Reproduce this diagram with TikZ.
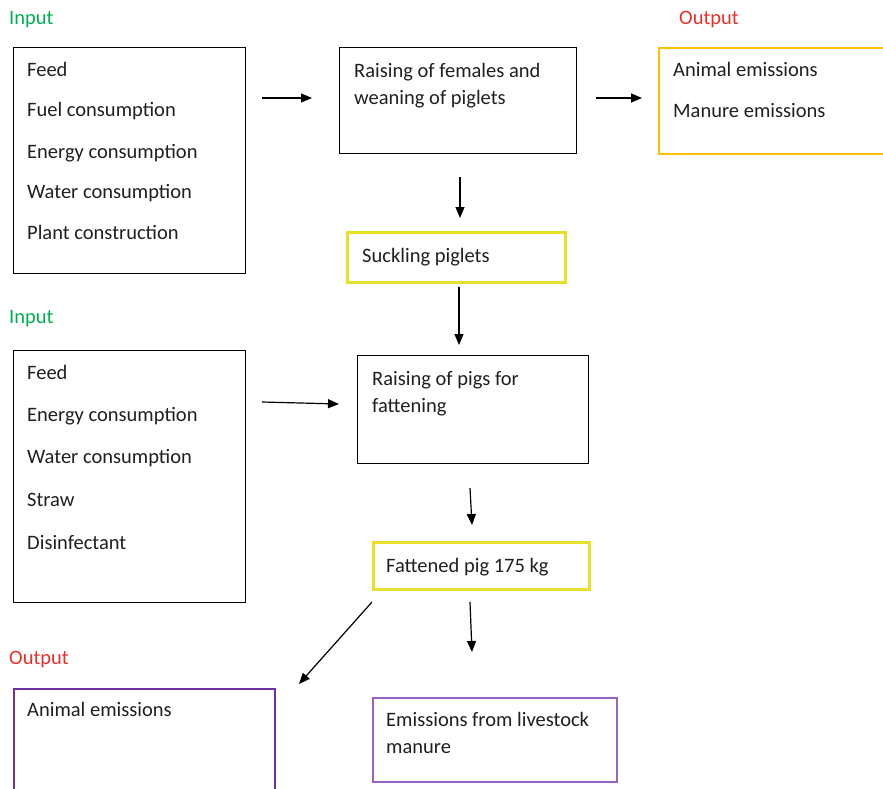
\documentclass[tikz,border=0pt]{standalone}
\usepackage{fontspec}
\setmainfont{Carlito}
\usetikzlibrary{arrows.meta,positioning}
\definecolor{InGreen}{HTML}{00B050}
\definecolor{OutRed}{HTML}{E8302A}
\definecolor{BoxOrange}{HTML}{FFC000}
\definecolor{BoxYellow}{HTML}{E6E02A}
\definecolor{BoxPurple}{HTML}{7030A0}
\definecolor{BoxLilac}{HTML}{9A62C4}

\begin{document}
\begin{tikzpicture}[x=1pt, y=-1pt, font=\fontsize{20.5}{27}\selectfont,
  box/.style={draw=#1, line width=1.3pt, anchor=north west, inner sep=0pt},
  tintbox/.style={draw=#1, line width=1.7pt, anchor=north west, inner sep=0pt},
  markbox/.style={draw=#1, line width=2.8pt, anchor=north west, inner sep=0pt},
  txt/.style={anchor=base west, inner sep=0pt, text=black!88},
  flow/.style={-{Triangle[length=11pt,width=9pt]}, line width=1.2pt}]
\useasboundingbox (0,0) rectangle (883,789);

% Boxes
\foreach \name/\x/\y/\w/\h/\sty/\col in {
  feedA/13/47/232/226/box/black,
  rearing/339/47/237/106/box/black,
  outA/658/47/240/106/tintbox/BoxOrange,
  suckling/346/231/218/50/markbox/BoxYellow,
  feedB/13/350/232/252/box/black,
  fattening/357/355/231/108/box/black,
  fattened/372/541/216/47/markbox/BoxYellow,
  outB/13/688/261/120/tintbox/BoxPurple,
  manure/372/697/244/84/tintbox/BoxLilac}
{
  \node[\sty=\col, minimum width=\w, minimum height=\h] (\name) at (\x,\y) {};
}

% Input / Output headings
\node[txt, text=InGreen] (inA) at (9,25) {Input};
\node[txt, text=OutRed] (outAlbl) at (679,25) {Output};
\node[txt, text=InGreen] (inB) at (9,323) {Input};
\node[txt, text=OutRed] (outBlbl) at (9,664) {Output};

% Texts inside the boxes
\foreach \x/\y/\t [count=\i] in {
  27/77/Feed, 27/117/Fuel consumption, 27/158/Energy consumption,
  27/198/Water consumption, 27/239/Plant construction,
  354/78/Raising of females and, 354/105/weaning of piglets,
  673/77/Animal emissions, 673/118/Manure emissions,
  362/262/Suckling piglets,
  27/379/Feed, 27/421/Energy consumption, 27/463/Water consumption,
  27/506/Straw, 27/549/Disinfectant,
  372/385/Raising of pigs for, 372/412/fattening,
  386/572/Fattened pig 175 kg,
  27/716/Animal emissions,
  386/726/Emissions from livestock, 386/753/manure}
{
  \node[txt] (line\i) at (\x,\y) {\t};
}

% Arrows
\foreach \i/\sx/\sy/\ex/\ey in {
  1/262/98/312/98, 2/596/98/642/98, 3/460/177/460/218,
  4/459/287/459/345, 5/262/402/339/404, 6/470/488/472/525,
  7/372/602/299/684, 8/470/602/472/652}
{
  \coordinate (s\i) at (\sx,\sy);
  \coordinate (e\i) at (\ex,\ey);
  \draw[flow] (s\i) -- (e\i);
}
\end{tikzpicture}
\end{document}
